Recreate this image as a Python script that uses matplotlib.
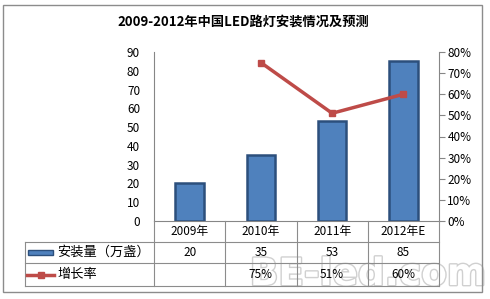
import matplotlib
matplotlib.use("Agg")
import matplotlib.pyplot as plt
import matplotlib.patheffects as pe
from matplotlib.patches import Rectangle
from matplotlib.lines import Line2D
from matplotlib.transforms import blended_transform_factory
import numpy as np

plt.rcParams["font.family"] = ["Noto Sans CJK SC", "DejaVu Sans"]

title = "2009-2012年中国LED路灯安装情况及预测"
years = ["2009年", "2010年", "2011年", "2012年E"]
installs = [20, 35, 53, 85]
growth = [np.nan, 75, 51, 60]
growth_labels = ["", "75%", "51%", "60%"]
bar_label = "安装量（万盏）"
line_label = "增长率"

W, H = 490, 299
fig = plt.figure(figsize=(W / 100, H / 100), dpi=100)


def fy(py):
    return 1 - py / H


def fx(px):
    return px / W


# watermark first, so the table text sits on top of it
fig.text(fx(368), fy(275), "BE-led.com", ha="center", va="center", fontsize=27,
         color="white", fontweight="bold", family="DejaVu Sans", zorder=0,
         path_effects=[pe.withStroke(linewidth=2, foreground="#d0d0d0")])

ax = fig.add_axes([fx(154), fy(221), fx(439) - fx(154), fy(52) - fy(221)])
ax.patch.set_alpha(0)
x = np.arange(len(years))
ax.bar(x, installs, width=0.4, color="#4f81bd", edgecolor="#2c4f7c", linewidth=1.8, zorder=2)
ax.set_xlim(-0.5, len(years) - 0.5)
ax.set_ylim(0, 90)
ax.set_yticks(range(0, 91, 10))
ax.tick_params(axis="y", length=0, labelsize=8.5, pad=10)
ax.set_xticks([])
for s in ["top", "right"]:
    ax.spines[s].set_visible(False)
ax.spines["left"].set_color("#868686")
ax.spines["bottom"].set_color("#868686")

ax2 = ax.twinx()
ax2.plot(x, growth, color="#be4b48", linewidth=2.5, marker="s", markersize=5, zorder=3)
ax2.set_ylim(0, 80)
ax2.set_yticks(range(0, 81, 10))
ax2.set_yticklabels([f"{v}%" for v in range(0, 81, 10)])
ax2.tick_params(axis="y", length=4, color="#868686", labelsize=8.5, pad=2)
for s in ["top", "left", "bottom"]:
    ax2.spines[s].set_visible(False)
ax2.spines["right"].set_color("#868686")

fig.text(fx(243), fy(22), title, ha="center", va="center", fontsize=9.5, fontweight="bold")

# data table under the plot
grid = "#8c8c8c"
tr = blended_transform_factory(ax.transData, fig.transFigure)
rows_y = [221, 242, 263, 286]
for i in range(len(years) + 1):
    fig.add_artist(Line2D([i - 0.5, i - 0.5], [fy(221), fy(286)], transform=tr, color=grid, lw=0.8))
for py in rows_y[1:]:
    fig.add_artist(Line2D([fx(25), fx(439)], [fy(py), fy(py)], color=grid, lw=0.8))
fig.add_artist(Line2D([fx(25), fx(25)], [fy(242), fy(286)], color=grid, lw=0.8))

for i, yr in enumerate(years):
    fig.text(i, fy(231.5), yr, transform=tr, ha="center", va="center", fontsize=8.5)
    fig.text(i, fy(252.5), str(installs[i]), transform=tr, ha="center", va="center", fontsize=8.5)
    fig.text(i, fy(274.5), growth_labels[i], transform=tr, ha="center", va="center", fontsize=8.5)

fig.add_artist(Rectangle((fx(28), fy(255)), fx(53) - fx(28), fy(250) - fy(255),
                         facecolor="#4f81bd", edgecolor="#2c4f7c", lw=1))
fig.text(fx(57), fy(252.5), bar_label, ha="left", va="center", fontsize=9.5)
fig.add_artist(Line2D([fx(27), fx(54)], [fy(274.5), fy(274.5)], color="#be4b48", lw=2.5))
fig.add_artist(Line2D([fx(40.5)], [fy(274.5)], color="#be4b48", marker="s", markersize=5))
fig.text(fx(57), fy(274.5), line_label, ha="left", va="center", fontsize=9.5)

# outer chart border
fig.add_artist(Rectangle((fx(3), fy(292)), fx(482) - fx(3), fy(5) - fy(292),
                         facecolor="none", edgecolor="#8c8c8c", lw=1))

fig.savefig("out.png", dpi=100)
